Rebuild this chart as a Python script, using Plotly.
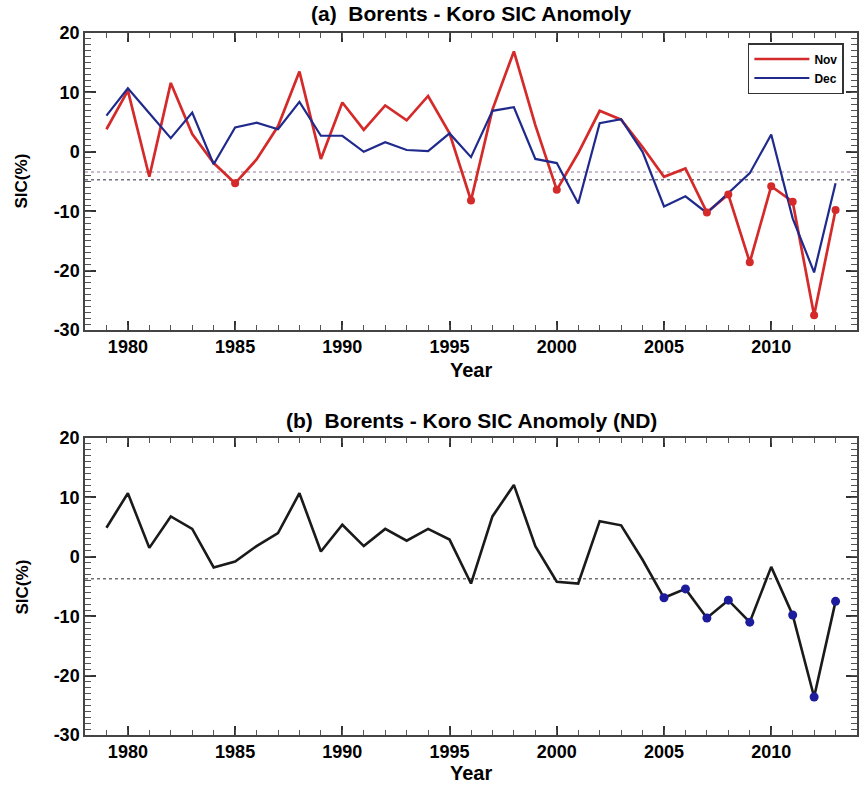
import plotly.graph_objects as go

# Years of record
years = list(range(1979, 2014))

# November sea-ice-concentration anomaly (%)
nov = [3.8, 10.3, -4.2, 11.6, 3.0, -1.9, -5.3, -1.3, 4.3, 13.5,
       -1.2, 8.3, 3.7, 7.8, 5.3, 9.4, 3.1, -8.2, 7.1, 16.9,
       4.5, -6.4, -0.2, 6.9, 5.4, 0.8, -4.2, -2.8, -10.2, -7.2,
       -18.6, -5.8, -8.4, -27.5, -9.8]

# December sea-ice-concentration anomaly (%)
dec = [6.1, 10.7, 6.5, 2.3, 6.6, -2.1, 4.1, 4.9, 3.8, 8.4,
       2.7, 2.7, 0.0, 1.6, 0.3, 0.1, 3.1, -0.9, 6.9, 7.5,
       -1.2, -1.9, -8.7, 4.8, 5.5, 0.0, -9.2, -7.5, -10.3, -7.0,
       -3.6, 2.9, -11.2, -20.3, -5.3]

# November-December combined anomaly (%)
nd = [4.9, 10.7, 1.5, 6.8, 4.7, -1.8, -0.8, 1.8, 4.0, 10.7,
      0.9, 5.4, 1.8, 4.7, 2.7, 4.7, 2.9, -4.5, 6.8, 12.1,
      1.8, -4.2, -4.5, 6.0, 5.3, -0.5, -6.9, -5.4, -10.3, -7.3,
      -11.0, -1.7, -9.8, -23.6, -7.5]

# Reference levels (dotted lines)
nov_ref = -3.4
dec_ref = -4.7
nd_ref = -3.7

# Highlighted years
nov_marked = [1985, 1996, 2000, 2007, 2008, 2009, 2010, 2011, 2012, 2013]
nd_marked = [2005, 2006, 2007, 2008, 2009, 2011, 2012, 2013]

x_range = [1978, 2014]
y_range = [-30, 20]
y_ticks = [20, 10, 0, -10, -20, -30]
y_tick_text = ["20", "10", "0", "-10", "-20", "-30"]
x_ticks = [1980, 1985, 1990, 1995, 2000, 2005, 2010]

RED = "#d42a2a"
BLUE = "#1f2a8c"
DARK = "#1a1a1a"
FONT = "Liberation Sans, Arial, sans-serif"

fig = go.Figure()

# ---- panel (a)
fig.add_trace(go.Scatter(x=x_range, y=[nov_ref, nov_ref], mode="lines",
                         line=dict(color="#b8a4bc", width=1.6, dash="dot"),
                         xaxis="x", yaxis="y", showlegend=False, hoverinfo="skip"))
fig.add_trace(go.Scatter(x=x_range, y=[dec_ref, dec_ref], mode="lines",
                         line=dict(color="#6e6e80", width=1.6, dash="dot"),
                         xaxis="x", yaxis="y", showlegend=False, hoverinfo="skip"))
fig.add_trace(go.Scatter(x=years, y=nov, mode="lines", name="Nov",
                         line=dict(color=RED, width=2.7), xaxis="x", yaxis="y"))
fig.add_trace(go.Scatter(x=years, y=dec, mode="lines", name="Dec",
                         line=dict(color=BLUE, width=2.2), xaxis="x", yaxis="y"))
fig.add_trace(go.Scatter(x=nov_marked, y=[nov[years.index(y)] for y in nov_marked],
                         mode="markers", marker=dict(color=RED, size=8),
                         xaxis="x", yaxis="y", showlegend=False))

# ---- panel (b)
fig.add_trace(go.Scatter(x=x_range, y=[nd_ref, nd_ref], mode="lines",
                         line=dict(color="#707070", width=1.6, dash="dot"),
                         xaxis="x2", yaxis="y2", showlegend=False, hoverinfo="skip"))
fig.add_trace(go.Scatter(x=years, y=nd, mode="lines",
                         line=dict(color=DARK, width=2.6),
                         xaxis="x2", yaxis="y2", showlegend=False))
fig.add_trace(go.Scatter(x=nd_marked, y=[nd[years.index(y)] for y in nd_marked],
                         mode="markers", marker=dict(color="#1c1c9c", size=9),
                         xaxis="x2", yaxis="y2", showlegend=False))

# transparent carriers for the secondary (minor-tick) axes of each panel
for xa, ya in (("x3", "y3"), ("x4", "y4")):
    fig.add_trace(go.Scatter(x=x_range, y=y_range, mode="lines",
                             line=dict(width=0), opacity=0, xaxis=xa, yaxis=ya,
                             showlegend=False, hoverinfo="skip"))

tick_font = dict(family=FONT, size=18, color="black", weight="bold")

def x_axis(anchor):
    return dict(range=x_range, anchor=anchor, tickmode="array", tickvals=x_ticks,
                ticks="inside", ticklen=9, tickwidth=1.5, tickcolor="#333",
                showline=True, linecolor="#444", linewidth=1.5, mirror="allticks",
                showgrid=False, zeroline=False, tickfont=tick_font)

def y_axis(anchor, domain):
    return dict(range=y_range, anchor=anchor, domain=domain,
                tickmode="array", tickvals=y_ticks, ticktext=y_tick_text,
                ticks="inside", ticklen=11, tickwidth=1.5, tickcolor="#333",
                showline=True, linecolor="#444", linewidth=1.5, mirror="allticks",
                showgrid=False, zeroline=False, tickfont=tick_font)

def x_minor_axis(over, anchor):
    return dict(range=x_range, overlaying=over, anchor=anchor,
                tickmode="linear", tick0=1978, dtick=1,
                ticks="inside", ticklen=5, tickwidth=1, tickcolor="#555",
                showticklabels=False, showline=False, mirror="allticks",
                showgrid=False, zeroline=False)

def y_minor_axis(over, anchor):
    return dict(range=y_range, overlaying=over, anchor=anchor, side="left",
                tickmode="linear", tick0=0, dtick=1,
                ticks="inside", ticklen=6, tickwidth=1, tickcolor="#555",
                showticklabels=False, showline=False, mirror="allticks",
                showgrid=False, zeroline=False)

# pixel helper for the 702 px tall plotting region (top 33, bottom 735)
def py(p):
    return (735 - p) / 702.0

fig.update_layout(
    width=863, height=788,
    margin=dict(l=85, r=4, t=33, b=53),
    paper_bgcolor="white", plot_bgcolor="white",
    xaxis=x_axis("y"),
    yaxis=y_axis("x", [py(330), 1.0]),
    xaxis2=x_axis("y2"),
    yaxis2=y_axis("x2", [0.0, py(438)]),
    xaxis3=x_minor_axis("x", "y"),
    yaxis3=y_minor_axis("y", "x"),
    xaxis4=x_minor_axis("x2", "y2"),
    yaxis4=y_minor_axis("y2", "x2"),
    legend=dict(x=0.983, y=py(43), xanchor="right", yanchor="top",
                bordercolor="#333", borderwidth=1.5, bgcolor="white",
                itemwidth=55, tracegroupgap=0,
                font=dict(family=FONT, size=12, color="black", weight="bold")),
    showlegend=True,
)

title_font = dict(family=FONT, size=21, color="black", weight="bold")
label_font = dict(family=FONT, size=20, color="black", weight="bold")
side_font = dict(family=FONT, size=17, color="black", weight="bold")

annotations = [
    dict(text="(a)  Borents - Koro SIC Anomoly", x=0.5, y=py(14), font=title_font),
    dict(text="(b)  Borents - Koro SIC Anomoly (ND)", x=0.5, y=py(420), font=title_font),
    dict(text="Year", x=0.5, y=py(370), font=label_font),
    dict(text="Year", x=0.5, y=py(773), font=label_font),
    dict(text="SIC(%)", x=-0.081, y=py(181), textangle=-90, font=side_font),
    dict(text="SIC(%)", x=-0.081, y=py(587), textangle=-90, font=side_font),
]
for a in annotations:
    a.update(xref="paper", yref="paper", showarrow=False,
             xanchor="center", yanchor="middle")
fig.update_layout(annotations=annotations)

fig.write_html("out.html")
